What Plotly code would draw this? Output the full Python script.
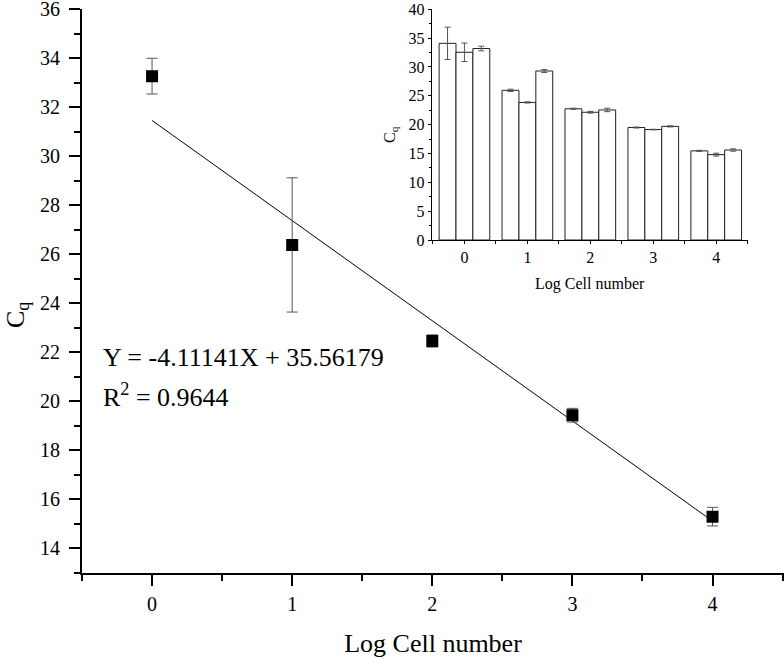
import plotly.graph_objects as go

# ---- main chart data ----
log_cells = [0, 1, 2, 3, 4]
cq_mean = [33.26, 26.37, 22.45, 19.42, 15.28]
cq_err = [0.73, 2.74, 0.25, 0.28, 0.38]
fit_x = [0, 4]
fit_y = [31.45, 15.10]
x_ticks = [0, 1, 2, 3, 4]
y_ticks = [14, 16, 18, 20, 22, 24, 26, 28, 30, 32, 34, 36]

# ---- inset bar data (three replicates) ----
inset_x = [0, 1, 2, 3, 4]
rep1 = [34.1, 25.95, 22.75, 19.5, 15.45]
rep1_err = [2.8, 0.2, 0.1, 0.08, 0.1]
rep2 = [32.55, 23.85, 22.15, 19.15, 14.8]
rep2_err = [1.6, 0.1, 0.15, 0.05, 0.25]
rep3 = [33.2, 29.3, 22.55, 19.7, 15.6]
rep3_err = [0.4, 0.25, 0.3, 0.1, 0.2]
inset_y_ticks = [0, 5, 10, 15, 20, 25, 30, 35, 40]

FONT = "Liberation Serif, Times New Roman, serif"
W, H = 784, 658
PX_PER_UNIT = (572.5 - 9) / 23.0

fig = go.Figure()

fig.add_trace(go.Scatter(
    x=fit_x, y=fit_y, mode="lines",
    line=dict(color="black", width=1), showlegend=False,
    xaxis="x", yaxis="y"))

fig.add_trace(go.Scatter(
    x=log_cells, y=cq_mean, mode="markers",
    marker=dict(symbol="square", size=12, color="black"),
    error_y=dict(type="data", array=cq_err, color="#555555", thickness=1, width=5.5),
    showlegend=False, xaxis="x", yaxis="y"))

for vals, errs in [(rep1, rep1_err), (rep2, rep2_err), (rep3, rep3_err)]:
    fig.add_trace(go.Bar(
        x=inset_x, y=vals,
        marker=dict(color="white", line=dict(color="#222222", width=1)),
        error_y=dict(type="data", array=errs, color="#555555", thickness=1, width=3),
        showlegend=False, xaxis="x2", yaxis="y2"))

axis_common = dict(showgrid=False, zeroline=False, showline=True, linecolor="black",
                   ticks="outside", tickcolor="black", automargin=False,
                   ticklabeloverflow="allow")

fig.update_layout(
    width=W, height=H,
    margin=dict(l=0, r=0, t=0, b=0, autoexpand=False),
    paper_bgcolor="white", plot_bgcolor="white",
    font=dict(family=FONT, color="black"),
    barmode="group", bargap=0.195, bargroupgap=0,
    xaxis=dict(**axis_common, domain=[82 / W, 1.0], range=[-0.5, 4.51],
               anchor="y", linewidth=2, tickwidth=2, ticklen=11,
               tickvals=x_ticks, tickfont=dict(size=20, family=FONT),
               ticklabelstandoff=1,
               minor=dict(ticks="outside", dtick=0.5, tick0=0, ticklen=6, tickwidth=2, tickcolor="black"),
               title=dict(text="Log Cell number", font=dict(size=26, family=FONT), standoff=20)),
    yaxis=dict(**axis_common,
               domain=[(H - 572.5) / H, (H - 9) / H],
               range=[13, 36],
               anchor="x", linewidth=2, tickwidth=2, ticklen=11,
               tickvals=y_ticks, tickfont=dict(size=20, family=FONT),
               ticklabelstandoff=5,
               minor=dict(ticks="outside", dtick=1, tick0=13, ticklen=6, tickwidth=2, tickcolor="black")),
    xaxis2=dict(**axis_common, domain=[431.7 / W, 747.7 / W], range=[-0.52, 4.5],
                anchor="y2", linewidth=1, tickwidth=1, ticklen=3,
                tickvals=inset_x, tickfont=dict(size=16, family=FONT),
                minor=dict(ticks="outside", dtick=0.5, tick0=0, ticklen=3, tickwidth=1, tickcolor="black"),
                title=dict(text="Log Cell number", font=dict(size=16, family=FONT), standoff=12)),
    yaxis2=dict(**axis_common, domain=[(H - 240) / H, (H - 9.3) / H], range=[0, 40],
                anchor="x2", linewidth=1, tickwidth=1, ticklen=3,
                tickvals=inset_y_ticks, tickfont=dict(size=16, family=FONT),
                minor=dict(ticks="outside", dtick=2.5, tick0=0, ticklen=2, tickwidth=1, tickcolor="black")),
    annotations=[
        dict(text="C<sub>q</sub>", xref="paper", yref="paper", x=17 / W, y=(H - 315) / H,
             xanchor="center", yanchor="middle", textangle=-90, showarrow=False,
             font=dict(size=26, family=FONT)),
        dict(text="C<sub>q</sub>", xref="paper", yref="paper", x=390 / W, y=(H - 135) / H,
             xanchor="center", yanchor="middle", textangle=-90, showarrow=False,
             font=dict(size=16, family=FONT)),
        dict(text="Y = -4.11141X + 35.56179", xref="paper", yref="paper", x=101 / W, y=(H - 357) / H,
             xanchor="left", yanchor="middle", showarrow=False, font=dict(size=26, family=FONT)),
        dict(text="R<sup>2</sup> = 0.9644", xref="paper", yref="paper", x=101 / W, y=(H - 395) / H,
             xanchor="left", yanchor="middle", showarrow=False, font=dict(size=26, family=FONT)),
    ],
)

fig.write_html("out.html", config={"displayModeBar": False},
               post_script="document.body.style.margin='0px';")
